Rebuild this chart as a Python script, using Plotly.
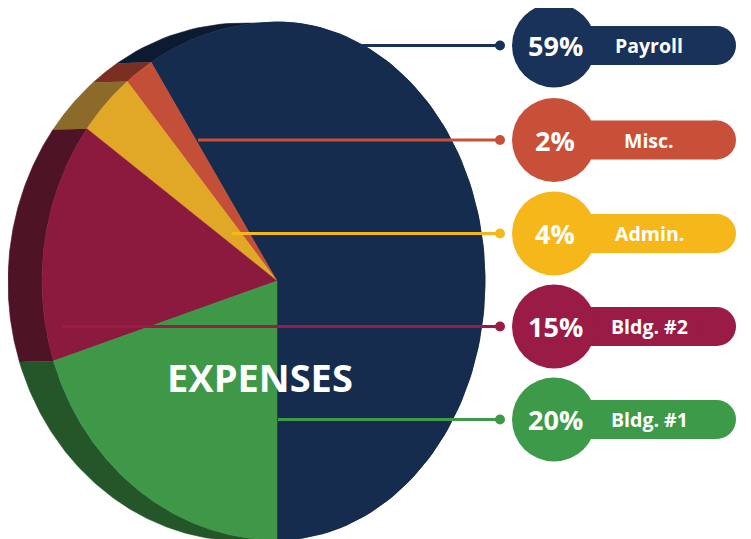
import numpy as np
import plotly.graph_objects as go

# ---------------- data ----------------
labels = ["Payroll", "Misc.", "Admin.", "Bldg. #2", "Bldg. #1"]
values = [59, 2, 4, 15, 20]
pct_text = ["59%", "2%", "4%", "15%", "20%"]
center_title = "EXPENSES"

face_colors = ["#152c4f", "#c44f38", "#e1a726", "#8b1a3e", "#3e9847"]
side_colors = ["#0c1b31", "#7b2f22", "#8b6a2a", "#4f1326", "#245629"]
badge_colors = ["#19325a", "#c85038", "#f6b71a", "#9a1b46", "#3c9a49"]

# ---------------- layout constants ----------------
W, H = 751, 539
PAGE_OFF = 8                 # default page body margin
CX, CY = 277, 281            # apex of the pie (pixels)
RX_L, RX_R, RY = 235, 208, 259
DEPTH_DX, DEPTH_DY = -34, 1
START_ANGLE = 180            # compass degrees, counter-clockwise order

row_y = [45.5, 140, 233.5, 326.5, 419.5]
leader_x0 = [360, 198, 232, 62, 278]
leader_x1 = 500
badge_cx, badge_r = 554, 42
bar_x0, bar_x1, bar_h = 540, 736, 39


def arc(a0, a1, dx=0.0, dy=0.0, n=120):
    t = np.radians(np.linspace(a0, a1, n))
    s, c = np.sin(t), np.cos(t)
    rx = np.where(s < 0, RX_L, RX_R)
    return CX + dx + rx * s, CY + dy - RY * c


fig = go.Figure()

# slice angles (counter-clockwise from the bottom)
total = float(sum(values))
angles = []
cum = 0.0
for v in values:
    a0 = START_ANGLE - cum / total * 360
    a1 = START_ANGLE - (cum + v) / total * 360
    angles.append((a0, a1))
    cum += v

# side (depth) surfaces
for (a0, a1), col in zip(angles, side_colors):
    fx, fy = arc(a0, a1)
    bx, by = arc(a1, a0, DEPTH_DX, DEPTH_DY)
    fig.add_trace(go.Scatter(
        x=np.concatenate([fx, bx]), y=np.concatenate([fy, by]),
        mode="lines", fill="toself", fillcolor=col,
        line=dict(width=0.6, color=col), hoverinfo="skip", showlegend=False))

# front faces
for (a0, a1), col, lab in zip(angles, face_colors, labels):
    fx, fy = arc(a0, a1)
    fig.add_trace(go.Scatter(
        x=np.concatenate([[CX], fx, [CX]]), y=np.concatenate([[CY], fy, [CY]]),
        mode="lines", fill="toself", fillcolor=col,
        line=dict(width=0.6, color=col), name=lab,
        hoverinfo="skip", showlegend=False))

# leader lines with end dots
for y, x0, col in zip(row_y, leader_x0, badge_colors):
    fig.add_trace(go.Scatter(
        x=[x0, leader_x1], y=[y, y], mode="lines",
        line=dict(color=col, width=2.8),
        hoverinfo="skip", showlegend=False))
    fig.add_trace(go.Scatter(
        x=[leader_x1], y=[y], mode="markers",
        marker=dict(size=10, color=col, opacity=1, line=dict(width=0)),
        hoverinfo="skip", showlegend=False))

shapes = []
annotations = []
for y, col, pct, lab in zip(row_y, badge_colors, pct_text, labels):
    shapes.append(dict(type="rect", xref="x", yref="y",
                       x0=bar_x0, x1=bar_x1 - bar_h / 2,
                       y0=y - bar_h / 2, y1=y + bar_h / 2,
                       fillcolor=col, line=dict(width=0)))
    shapes.append(dict(type="circle", xref="x", yref="y",
                       x0=bar_x1 - bar_h, x1=bar_x1,
                       y0=y - bar_h / 2, y1=y + bar_h / 2,
                       fillcolor=col, line=dict(width=0)))
    shapes.append(dict(type="circle", xref="x", yref="y",
                       x0=badge_cx - badge_r, x1=badge_cx + badge_r,
                       y0=y - badge_r, y1=y + badge_r,
                       fillcolor=col, line=dict(width=0)))
    annotations.append(dict(x=555, y=y, xref="x", yref="y", text=pct,
                            showarrow=False, xanchor="center", yanchor="middle",
                            font=dict(family="Open Sans", size=27, color="white",
                                      weight="bold")))
    annotations.append(dict(x=649, y=y, xref="x", yref="y", text=lab,
                            showarrow=False, xanchor="center", yanchor="middle",
                            font=dict(family="Open Sans", size=19.5, color="white",
                                      weight="bold")))

annotations.append(dict(x=260, y=377, xref="x", yref="y", text=center_title,
                        showarrow=False, xanchor="center", yanchor="middle",
                        font=dict(family="Open Sans", size=38, color="white",
                                  weight="bold")))

fig.update_layout(
    width=W, height=H,
    margin=dict(l=0, r=0, t=0, b=0),
    paper_bgcolor="white", plot_bgcolor="white",
    xaxis=dict(range=[PAGE_OFF, W + PAGE_OFF], visible=False, fixedrange=True),
    yaxis=dict(range=[H + PAGE_OFF, PAGE_OFF], visible=False, fixedrange=True),
    shapes=shapes, annotations=annotations,
    showlegend=False,
)

fig.write_html("out.html")
